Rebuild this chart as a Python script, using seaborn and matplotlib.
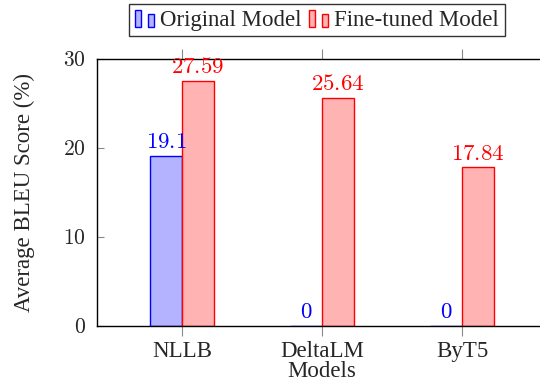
import pandas as pd
import matplotlib
matplotlib.use("Agg")
import matplotlib.pyplot as plt
import seaborn as sns
from matplotlib.patches import Rectangle
from matplotlib.legend_handler import HandlerBase
from matplotlib.ticker import FuncFormatter

# data
models = ["NLLB", "DeltaLM", "ByT5"]
original = [19.1, 0, 0]
finetuned = [27.59, 25.64, 17.84]
series = ["Original Model", "Fine-tuned Model"]

fills = ["#b3b3ff", "#ffb3b3"]
edges = ["blue", "red"]

df = pd.DataFrame({
    "model": models * 2,
    "score": original + finetuned,
    "kind": [series[0]] * 3 + [series[1]] * 3,
})

sns.set_style("white")
plt.rcParams["font.family"] = ["Liberation Serif", "DejaVu Serif"]
plt.rcParams["mathtext.fontset"] = "cm"
FS = 16.5

fig = plt.figure(figsize=(5.4, 3.85), dpi=100)
ax = fig.add_axes([0.1796, 0.153, 0.8333, 0.6935])

sns.barplot(data=df, x="model", y="score", hue="kind", hue_order=series,
            palette=fills, saturation=1, width=0.457, gap=0, ax=ax, linewidth=1.0)

for cont, ec in zip(ax.containers, edges):
    for bar in cont:
        bar.set_edgecolor(ec)
    labels = [f"${v:g}$" for v in cont.datavalues]
    ax.bar_label(cont, labels=labels, color=ec, fontsize=FS, padding=2)

ax.get_legend().remove()

ax.set_xlim(-0.607, 2.607)
ax.set_ylim(0, 30)
ax.set_yticks([0, 10, 20, 30])
ax.yaxis.set_major_formatter(FuncFormatter(lambda v, p: f"${v:.0f}$"))
ax.set_xlabel("Models", fontsize=FS, labelpad=-1)
ax.set_ylabel("Average BLEU Score (%)", fontsize=FS, labelpad=20)

ax.tick_params(axis="y", direction="in", left=True, right=True, length=5,
               color="#888888", labelsize=15.5, pad=8)
ax.tick_params(axis="x", direction="out", bottom=True, top=True, length=7,
               color="#888888", labelsize=FS, pad=4)
for s in ax.spines.values():
    s.set_visible(True)
    s.set_color("black")
    s.set_linewidth(1.0)


class TwoBars(HandlerBase):
    def create_artists(self, legend, orig, x0, y0, width, height, fontsize, trans):
        fc = orig.get_facecolor()
        ec = orig.get_edgecolor()
        bw = width * 0.33
        r1 = Rectangle((x0, y0 - height * 0.1), bw, height * 1.1, facecolor=fc,
                       edgecolor=ec, lw=1.0, transform=trans)
        r2 = Rectangle((x0 + width * 0.64, y0 - height * 0.1), bw, height * 0.85,
                       facecolor=fc, edgecolor=ec, lw=1.0, transform=trans)
        return [r1, r2]


handles = [Rectangle((0, 0), 1, 1, facecolor=f, edgecolor=e) for f, e in zip(fills, edges)]
leg = fig.legend(handles, series, loc="upper center", bbox_to_anchor=(0.587, 0.99),
                 ncol=2, fontsize=FS, frameon=True, fancybox=False, edgecolor="black",
                 handler_map={Rectangle: TwoBars()}, handlelength=0.87,
                 handletextpad=0.25, columnspacing=0.3, borderpad=0.25,
                 borderaxespad=0)
leg.get_frame().set_linewidth(1.0)

fig.savefig("out.png", dpi=100)
